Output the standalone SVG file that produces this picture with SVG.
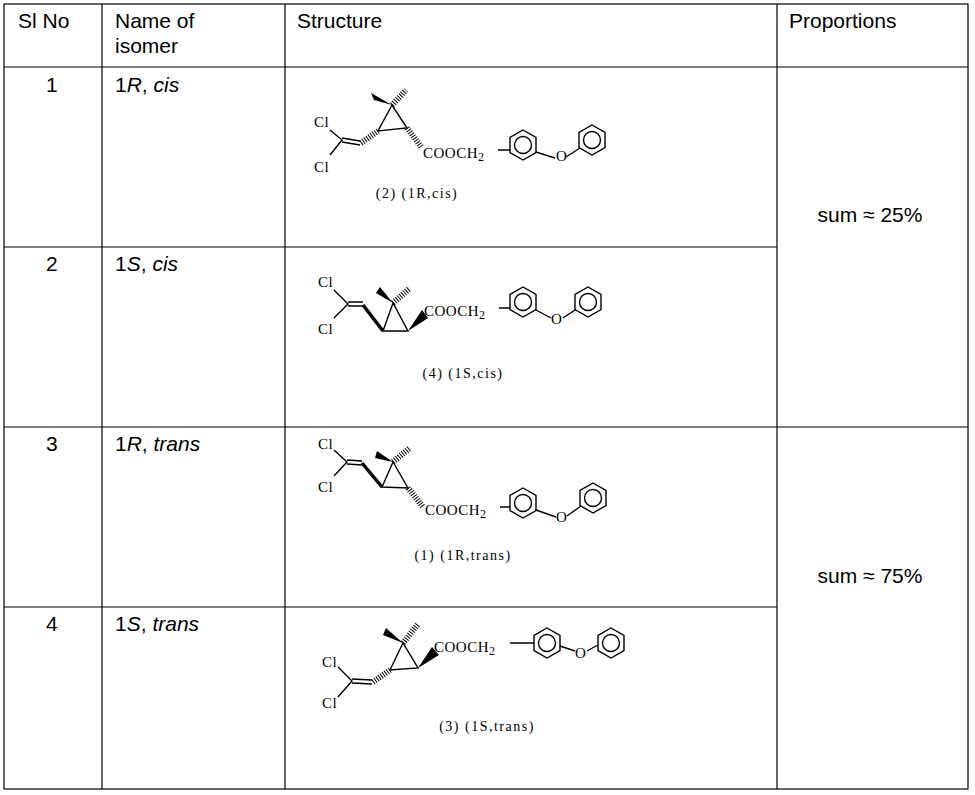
<svg xmlns="http://www.w3.org/2000/svg" width="975" height="795" viewBox="0 0 975 795">
<style>
.g{stroke:#000;stroke-width:1.2;fill:none}
.t{font-family:"Liberation Sans",Arial,sans-serif;font-size:21px;fill:#000}
.c{font-family:"Liberation Serif",serif;font-size:15px;fill:#000;letter-spacing:0.5px}
.cap{font-family:"Liberation Serif",serif;font-size:14px;fill:#000;text-anchor:middle;letter-spacing:1.5px}
.b{stroke:#000;stroke-width:1.4;fill:none}
.bb{stroke:#000;stroke-width:3.5;fill:none}
.h{stroke:#000;stroke-width:6;stroke-dasharray:1 1.5;fill:none}
</style>
<defs>
<g id="ring"><polygon class="b" points="0,-15 13,-7.5 13,7.5 0,15 -13,7.5 -13,-7.5"/><circle class="b" r="8.5"/></g>
</defs>
<rect width="975" height="795" fill="#fff"/>
<g id="grid" class="g">
<rect x="4" y="4" width="964" height="785"/>
<line x1="102" y1="4" x2="102" y2="789"/>
<line x1="285" y1="4" x2="285" y2="789"/>
<line x1="777" y1="4" x2="777" y2="789"/>
<line x1="4" y1="67" x2="968" y2="67"/>
<line x1="4" y1="247" x2="777" y2="247"/>
<line x1="4" y1="427" x2="968" y2="427"/>
<line x1="4" y1="607" x2="777" y2="607"/>
</g>
<g id="header" class="t">
<text x="18" y="28">Sl No</text>
<text x="115" y="28">Name of</text><text x="115" y="53">isomer</text>
<text x="297" y="28">Structure</text>
<text x="789" y="28">Proportions</text>
</g>
<g id="rows" class="t">
<text x="46" y="92">1</text><text x="115" y="92">1<tspan font-style="italic">R</tspan>, <tspan font-style="italic">cis</tspan></text>
<text x="46" y="271">2</text><text x="115" y="271">1<tspan font-style="italic">S</tspan>, <tspan font-style="italic">cis</tspan></text>
<text x="46" y="451">3</text><text x="115" y="451">1<tspan font-style="italic">R</tspan>, <tspan font-style="italic">trans</tspan></text>
<text x="46" y="631">4</text><text x="115" y="631">1<tspan font-style="italic">S</tspan>, <tspan font-style="italic">trans</tspan></text>
<text x="870" y="222" text-anchor="middle">sum ≈ 25%</text>
<text x="870" y="583" text-anchor="middle">sum ≈ 75%</text>
</g>
<g id="s1">
<text class="c" x="314" y="127">Cl</text><text class="c" x="314" y="172">Cl</text>
<path class="b" d="M330,130 L342,140 L330,155 M342,138 L360,141 M342,142 L360,145"/>
<path class="h" d="M361,143 L378,131 M407,128 L422,148 M392,105 L406,90"/>
<polygon points="392,105 371,93 374,100" fill="#000"/>
<polygon class="b" points="392,105 378,131 407,128"/>
<text class="c" x="423" y="158">COOCH<tspan dy="3" font-size="12">2</tspan></text>
<path class="b" d="M498,150 L510,150 M536,152 L555,158 M566,157 L580,148"/>
<use href="#ring" x="523" y="145"/><use href="#ring" x="592" y="140"/>
<text class="c" x="556" y="161" font-size="12">O</text>
<text class="cap" x="417" y="198">(2) (1R,cis)</text>
</g>
<g id="s2">
<text class="c" x="318" y="287">Cl</text><text class="c" x="318" y="334">Cl</text>
<path class="b" d="M334,290 L348,304 L334,318 M348,302 L363,302 M348,306 L363,306"/>
<path class="bb" d="M363,305 L383,331"/>
<polygon class="b" points="393,303 383,331 408,331"/>
<polygon points="393,303 376,293 380,287" fill="#000"/>
<path class="h" d="M393,303 L410,288"/>
<polygon points="408,331 422,310 428,318" fill="#000"/>
<text class="c" x="424" y="316">COOCH<tspan dy="3" font-size="12">2</tspan></text>
<path class="b" d="M499,308 L510,308 M536,310 L551,318 M563,318 L575,310"/>
<use href="#ring" x="523" y="302"/><use href="#ring" x="588" y="302"/>
<text class="c" x="551" y="324" font-size="12">O</text>
<text class="cap" x="463" y="378">(4) (1S,cis)</text>
</g>
<g id="s3">
<text class="c" x="318" y="449">Cl</text><text class="c" x="318" y="492">Cl</text>
<path class="b" d="M334,450 L347,462 L334,476 M347,460 L362,461 M347,464 L362,465"/>
<path class="bb" d="M362,463 L382,487"/>
<polygon class="b" points="393,462 382,487 408,488"/>
<polygon points="393,462 375,458 377,451" fill="#000"/>
<path class="h" d="M393,462 L410,448 M408,488 L423,507"/>
<text class="c" x="425" y="515">COOCH<tspan dy="3" font-size="12">2</tspan></text>
<path class="b" d="M500,507 L510,507 M536,510 L556,517 M567,516 L581,506"/>
<use href="#ring" x="523" y="503"/><use href="#ring" x="593" y="498"/>
<text class="c" x="556" y="522" font-size="12">O</text>
<text class="cap" x="463" y="560">(1) (1R,trans)</text>
</g>
<g id="s4">
<text class="c" x="322" y="667">Cl</text><text class="c" x="322" y="708">Cl</text>
<path class="b" d="M338,667 L352,681 L338,697 M352,679 L372,680 M352,683 L372,684"/>
<path class="h" d="M373,682 L390,670 M403,643 L418,624"/>
<polygon class="b" points="403,643 390,670 418,668"/>
<polygon points="403,643 383,635 386,628" fill="#000"/>
<polygon points="418,668 432,647 439,655" fill="#000"/>
<text class="c" x="434" y="652">COOCH<tspan dy="3" font-size="12">2</tspan></text>
<path class="b" d="M510,643 L534,643 M560,646 L575,651 M587,651 L598,645"/>
<use href="#ring" x="547" y="643"/><use href="#ring" x="611" y="643"/>
<text class="c" x="575" y="658" font-size="12">O</text>
<text class="cap" x="487" y="731">(3) (1S,trans)</text>
</g>
</svg>
